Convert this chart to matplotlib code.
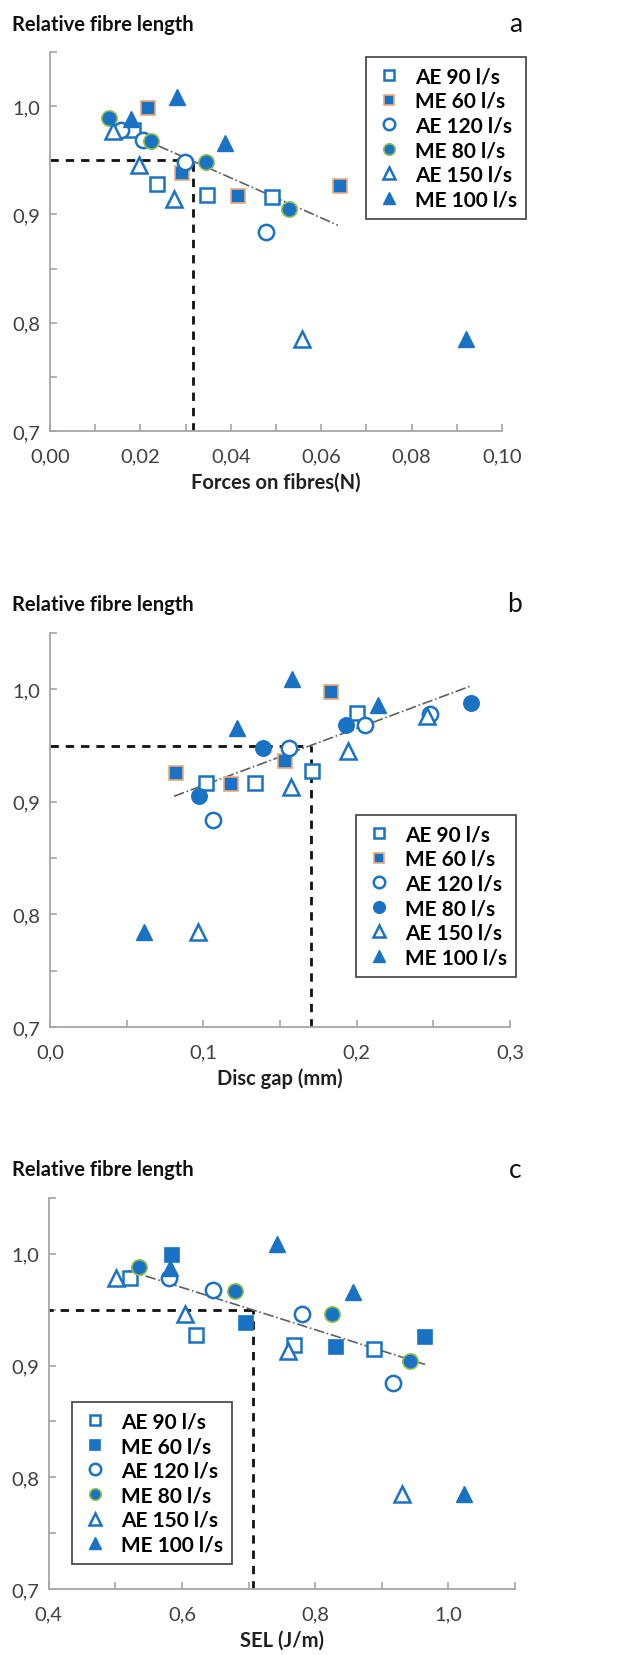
import matplotlib
matplotlib.use("Agg")
import matplotlib.pyplot as plt
from matplotlib.ticker import MultipleLocator, FuncFormatter

plt.rcParams['font.family'] = ['Lato', 'DejaVu Sans']

# series names (legend)
labels = ["AE 90 l/s", "ME 60 l/s", "AE 120 l/s", "ME 80 l/s", "AE 150 l/s", "ME 100 l/s"]

# panel a: forces on fibres (N) vs relative fibre length
force_ae90 = [0.0184, 0.0236, 0.0348, 0.0492]
rfl_a_ae90 = [0.978, 0.928, 0.918, 0.916]
force_me60 = [0.0216, 0.0291, 0.0416, 0.0642]
rfl_a_me60 = [0.998, 0.938, 0.917, 0.926]
force_ae120 = [0.0156, 0.0205, 0.0298, 0.0477]
rfl_a_ae120 = [0.978, 0.969, 0.948, 0.884]
force_me80 = [0.0131, 0.0223, 0.0345, 0.0529]
rfl_a_me80 = [0.989, 0.968, 0.948, 0.905]
force_ae150 = [0.0140, 0.0197, 0.0275, 0.0558]
rfl_a_ae150 = [0.977, 0.946, 0.914, 0.785]
force_me100 = [0.0179, 0.0280, 0.0388, 0.0921]
rfl_a_me100 = [0.988, 1.008, 0.966, 0.785]
trend_a_x = [0.0133, 0.0637]
trend_a_y = [0.983, 0.890]
ref_a = (0.0317, 0.95)

# panel b: disc gap (mm)
gap_ae90 = [0.102, 0.134, 0.171, 0.200]
rfl_b_ae90 = [0.917, 0.917, 0.927, 0.979]
gap_me60 = [0.082, 0.118, 0.153, 0.183]
rfl_b_me60 = [0.926, 0.916, 0.936, 0.998]
gap_ae120 = [0.1065, 0.156, 0.2054, 0.248]
rfl_b_ae120 = [0.884, 0.948, 0.968, 0.978]
gap_me80 = [0.0974, 0.139, 0.193, 0.2746]
rfl_b_me80 = [0.905, 0.948, 0.968, 0.988]
gap_ae150 = [0.0963, 0.157, 0.1946, 0.246]
rfl_b_ae150 = [0.784, 0.913, 0.945, 0.976]
gap_me100 = [0.0613, 0.1217, 0.1576, 0.2137]
rfl_b_me100 = [0.784, 0.966, 1.009, 0.986]
trend_b_x = [0.0809, 0.2746]
trend_b_y = [0.905, 1.003]
ref_b = (0.170, 0.95)

# panel c: SEL (J/m)
sel_ae90 = [0.522, 0.621, 0.768, 0.889]
rfl_c_ae90 = [0.978, 0.927, 0.918, 0.915]
sel_me60 = [0.585, 0.696, 0.831, 0.965]
rfl_c_me60 = [0.999, 0.938, 0.917, 0.926]
sel_ae120 = [0.581, 0.647, 0.780, 0.917]
rfl_c_ae120 = [0.978, 0.968, 0.946, 0.884]
sel_me80 = [0.535, 0.680, 0.826, 0.942]
rfl_c_me80 = [0.988, 0.967, 0.946, 0.904]
sel_ae150 = [0.501, 0.605, 0.759, 0.930]
rfl_c_ae150 = [0.978, 0.946, 0.913, 0.785]
sel_me100 = [0.582, 0.742, 0.857, 1.024]
rfl_c_me100 = [0.987, 1.009, 0.966, 0.785]
trend_c_x = [0.520, 0.965]
trend_c_y = [0.985, 0.901]
ref_c = (0.706, 0.95)

blue = '#1a72c4'
orange = '#f0a878'
green = '#8fbf4a'
grey = '#a6a6a6'
txt = '#404040'


def draw_series(ax, xs, ys, me60_edge, me80_edge):
    styles = [
        dict(marker='s', ms=10.5, mfc='white', mec=blue, mew=1.8),
        dict(marker='s', ms=10.5, mfc=blue, mec=me60_edge, mew=1.2),
        dict(marker='o', ms=11, mfc='white', mec=blue, mew=1.8),
        dict(marker='o', ms=11, mfc=blue, mec=me80_edge, mew=1.2),
        dict(marker='^', ms=11, mfc='white', mec=blue, mew=1.8),
        dict(marker='^', ms=11, mfc=blue, mec=blue, mew=1.0),
    ]
    for x, y, st, lab in zip(xs, ys, styles, labels):
        ax.plot(x, y, ls='none', label=lab, zorder=3, **st)


def style_axes(ax, xlim, xmajor, xminor, fmt, xlabel):
    ax.set_xlim(*xlim)
    ax.set_ylim(0.7, 1.05)
    for s in ['top', 'right']:
        ax.spines[s].set_visible(False)
    for s in ['left', 'bottom']:
        ax.spines[s].set_color(grey)
        ax.spines[s].set_linewidth(1.3)
    ax.xaxis.set_major_locator(MultipleLocator(xmajor))
    ax.xaxis.set_minor_locator(MultipleLocator(xminor))
    ax.yaxis.set_major_locator(MultipleLocator(0.1))
    ax.yaxis.set_minor_locator(MultipleLocator(0.05))
    ax.xaxis.set_major_formatter(FuncFormatter(lambda v, p: fmt.format(v).replace('.', ',')))
    ax.yaxis.set_major_formatter(FuncFormatter(lambda v, p: '{:.1f}'.format(v).replace('.', ',')))
    ax.tick_params(which='both', direction='in', length=5, width=1.2, color=grey,
                   labelsize=14.5, labelcolor=txt)
    ax.tick_params(axis='x', which='both', pad=12)
    ax.tick_params(axis='y', which='both', pad=7)
    ax.set_xlabel(xlabel, fontsize=14.5, fontweight='bold', color='#202020', labelpad=5)


def ref_lines(ax, ref):
    x0 = ax.get_xlim()[0]
    ax.plot([x0, ref[0]], [ref[1], ref[1]], color='#111111', lw=2, ls=(0, (3, 2.5)), zorder=2)
    ax.plot([ref[0], ref[0]], [0.7, ref[1]], color='#111111', lw=2, ls=(0, (3, 2.5)), zorder=2)


def legend(ax, anchor):
    lg = ax.legend(loc='upper left', bbox_to_anchor=anchor, frameon=True, fancybox=False,
                   prop={'size': 15, 'weight': 'bold'}, labelspacing=0.22, markerscale=0.75,
                   handletextpad=0.6, handlelength=1.3, borderpad=0.45, borderaxespad=0)
    lg.get_frame().set_edgecolor('#222222')
    lg.get_frame().set_linewidth(1.3)
    lg.set_zorder(5)


fig = plt.figure(figsize=(6.28, 16.56), dpi=100)
W, H = 628.0, 1656.0


def add_ax(l, t, r, b):
    return fig.add_axes([l / W, 1 - b / H, (r - l) / W, (b - t) / H])


# ---- a ----
ax_a = add_ax(50, 53, 502, 432)
ref_lines(ax_a, ref_a)
ax_a.plot(trend_a_x, trend_a_y, color='#606060', lw=1.2, ls='-.', zorder=2)
draw_series(ax_a,
            [force_ae90, force_me60, force_ae120, force_me80, force_ae150, force_me100],
            [rfl_a_ae90, rfl_a_me60, rfl_a_ae120, rfl_a_me80, rfl_a_ae150, rfl_a_me100],
            orange, green)
style_axes(ax_a, (0, 0.1), 0.02, 0.01, '{:.2f}', 'Forces on fibres(N)')
legend(ax_a, (0.699, 0.987))

# ---- b ----
ax_b = add_ax(50, 634, 510, 1028)
ref_lines(ax_b, ref_b)
ax_b.plot(trend_b_x, trend_b_y, color='#606060', lw=1.2, ls='-.', zorder=2)
draw_series(ax_b,
            [gap_ae90, gap_me60, gap_ae120, gap_me80, gap_ae150, gap_me100],
            [rfl_b_ae90, rfl_b_me60, rfl_b_ae120, rfl_b_me80, rfl_b_ae150, rfl_b_me100],
            orange, blue)
style_axes(ax_b, (0, 0.3), 0.1, 0.05, '{:.1f}', 'Disc gap (mm)')
legend(ax_b, (0.665, 0.538))

# ---- c ----
ax_c = add_ax(48.7, 1199, 515, 1590)
ref_lines(ax_c, ref_c)
ax_c.plot(trend_c_x, trend_c_y, color='#606060', lw=1.2, ls='-.', zorder=2)
draw_series(ax_c,
            [sel_ae90, sel_me60, sel_ae120, sel_me80, sel_ae150, sel_me100],
            [rfl_c_ae90, rfl_c_me60, rfl_c_ae120, rfl_c_me80, rfl_c_ae150, rfl_c_me100],
            blue, green)
style_axes(ax_c, (0.4, 1.1), 0.2, 0.1, '{:.1f}', 'SEL (J/m)')
legend(ax_c, (0.05, 0.478))

# titles and panel letters
for ty, letter in [(25, 'a'), (605, 'b'), (1170, 'c')]:
    fig.text(12 / W, 1 - ty / H, 'Relative fibre length', fontsize=14.5, fontweight='bold',
             color='#111111', va='center', ha='left')
    fig.text(522 / W, 1 - ty / H, letter, fontsize=19, color='#111111', va='center', ha='right')

fig.savefig('out.png', dpi=100)
